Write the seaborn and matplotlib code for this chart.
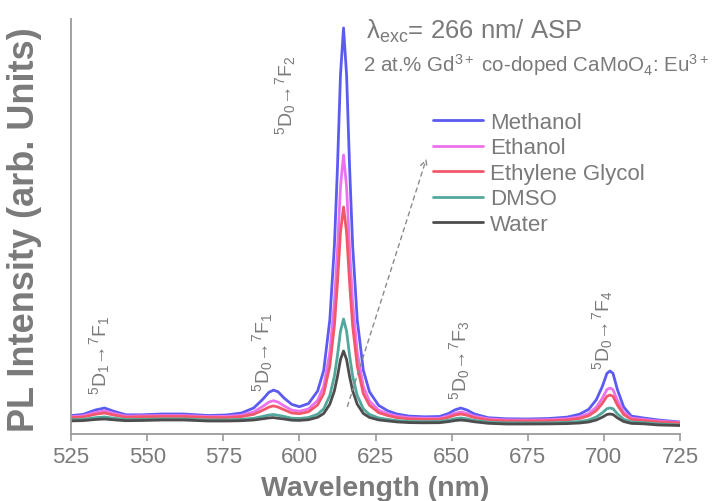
import matplotlib
matplotlib.use("Agg")
import matplotlib.pyplot as plt
import numpy as np
import pandas as pd
import seaborn as sns

# ---------------- data ----------------
wavelength = [525, 529, 533, 536, 539, 543, 548, 555, 562, 570, 576, 581, 585, 588, 590,
              591.5, 593, 595, 597.5, 600, 603, 606, 608, 610, 611.5, 612.5, 613.5, 614.5,
              615.5, 616.5, 617.5, 619, 621, 623, 626, 629, 632, 636, 641, 646, 649, 651,
              653, 655, 657.5, 662, 668, 675, 682, 688, 692, 695, 697.5, 699.5, 701, 702,
              703, 704.5, 706.5, 709, 713, 718, 725]

methanol = [18.4, 19.6, 24, 26, 22.8, 19.2, 19.2, 20, 20, 18.5, 19, 21, 26, 34.8, 41.7,
            43.9, 42.2, 35.9, 29.6, 27.3, 30.4, 43, 63.7, 114.3, 188.2, 266, 359.3, 406,
            359.3, 266, 188.2, 114.3, 63.7, 42.3, 28.7, 23.2, 20, 17.9, 17.2, 17.5, 20.5, 24,
            26, 24, 20, 16.3, 15.2, 15, 15.5, 16.9, 19.8, 24.6, 34.2, 47.6, 60.6, 63,
            60.6, 43.8, 27, 17.9, 16, 14, 12]

ethanol = [17.3, 18.2, 21.5, 23, 20.6, 17.9, 18.2, 18.5, 18.5, 17.5, 17.6, 18.8, 22, 27.6, 31.9,
           33.3, 31.9, 28.1, 23.9, 22.8, 25, 33.6, 47.6, 81.8, 131.7, 184.3, 247.4, 279,
           247.4, 184.3, 131.7, 81.8, 47.6, 33.1, 23.9, 20.2, 17.9, 16.3, 15.8, 15.7, 18.2, 20.6,
           22, 20.6, 17.8, 15.1, 14.1, 14, 14.3, 15.3, 17.2, 20.4, 26.8, 35.8, 44.4, 46,
           44.4, 33.2, 22, 15.9, 14.6, 13, 11.5]

ethylene_glycol = [16.3, 17, 19.8, 21, 19, 16.8, 17.2, 17.5, 17.5, 16.5, 16.4, 17.4, 19.7, 23.8, 26.9,
                   28.1, 26.9, 24.2, 21, 20.3, 22.2, 29.1, 40.4, 68, 108.3, 150.7, 201.6, 227,
                   201.6, 150.7, 108.3, 68, 40.4, 28.8, 21.4, 18.4, 16.4, 15.1, 14.6, 14.6, 16.7, 18.8,
                   20, 18.8, 16.4, 14, 13.1, 13, 13.3, 14, 15.6, 18.2, 23.4, 30.7, 37.7, 39,
                   37.7, 28.6, 19.5, 14.6, 13.5, 12, 11]

dmso = [14.2, 14.6, 16.3, 17, 15.8, 14.5, 14.6, 15, 15, 14, 14.1, 14.6, 15.7, 17.6, 19,
        19.5, 18.7, 17.5, 15.8, 15.5, 16.5, 19.8, 25.2, 38.5, 57.9, 78.3, 102.8, 115,
        102.8, 78.3, 57.9, 38.5, 25.2, 19.6, 16.1, 14.6, 13.4, 12.5, 12.3, 12.5, 13.8, 15.2,
        16, 15.2, 13.6, 11.8, 11.1, 11, 11.2, 11.6, 12.5, 14, 17, 21.2, 25.3, 26,
        25.3, 20, 14.8, 11.9, 11.3, 10, 9]

water = [13.1, 13.4, 14.5, 15, 14.2, 13.3, 13.5, 14, 14, 13, 13, 13.3, 14, 15.2, 16.1,
         16.4, 15.7, 15, 13.8, 13.6, 14.3, 16.7, 20.5, 29.8, 43.2, 57.4, 74.5, 83,
         74.5, 57.4, 43.2, 29.8, 20.5, 16.6, 14.1, 13.1, 12.1, 11.4, 11.2, 11.3, 12.4, 13.4,
         14, 13.4, 12.2, 10.7, 10, 10, 10.1, 10.4, 11, 12, 14, 16.8, 19.5, 20,
         19.5, 16, 12.5, 10.6, 10.2, 9, 8.5]

solvents = ["Methanol", "Ethanol", "Ethylene Glycol", "DMSO", "Water"]
colors = ["#5b5bf2", "#ec72ec", "#f2586a", "#52a89c", "#4d4d4d"]
x_ticks = [525, 550, 575, 600, 625, 650, 675, 700, 725]

series = [methanol, ethanol, ethylene_glycol, dmso, water]
df = pd.concat(
    [pd.DataFrame({"Wavelength": wavelength, "Intensity": v, "Solvent": s})
     for s, v in zip(solvents, series)],
    ignore_index=True)

# ---------------- style ----------------
sns.set_theme(style="white")
plt.rcParams["font.family"] = ["Liberation Sans", "DejaVu Sans"]
plt.rcParams["mathtext.fontset"] = "custom"
plt.rcParams["mathtext.rm"] = "Liberation Sans"
plt.rcParams["mathtext.it"] = "Liberation Sans:italic"
plt.rcParams["mathtext.bf"] = "Liberation Sans:bold"

txt = "#7a7a7a"

fig = plt.figure(figsize=(7.16, 5.02), dpi=100)
ax = fig.add_axes([71 / 716, 67 / 502, 609 / 716, 415 / 502])

sns.lineplot(data=df, x="Wavelength", y="Intensity", hue="Solvent",
             hue_order=solvents, palette=dict(zip(solvents, colors)),
             sort=False, estimator=None, lw=2.0, ax=ax)

ax.set_xlim(525, 725)
ax.set_ylim(0, 415)
ax.set_xticks(x_ticks)
ax.set_xticklabels([str(t) for t in x_ticks])
ax.set_yticks([])

for s in ["top", "right"]:
    ax.spines[s].set_visible(False)
for s in ["left", "bottom"]:
    ax.spines[s].set_color("#9a9a9a")
    ax.spines[s].set_linewidth(1.3)

ax.tick_params(axis="x", bottom=True, direction="out", length=5, width=1.2,
               color="#9a9a9a", labelsize=16, labelcolor=txt, pad=4)

ax.set_xlabel("Wavelength (nm)", fontsize=20.5, fontweight="bold", color=txt, va="top")
ax.xaxis.set_label_coords(0.499, -0.10)
ax.set_ylabel("PL Intensity (arb. Units)", fontsize=26, fontweight="bold", color=txt)
ax.yaxis.set_label_coords(-0.048, 0.495)

handles, labels = ax.get_legend_handles_labels()
ax.legend(handles, labels, loc="upper left", bbox_to_anchor=(433 / 716, 1 - 113 / 502),
          bbox_transform=fig.transFigure, frameon=False, fontsize=16,
          handlelength=2.25, handletextpad=0.3, labelspacing=0.2, borderpad=0,
          borderaxespad=0, labelcolor=txt)

# header texts
fig.text(366 / 716, 1 - 31 / 502, "λ$_{\\mathregular{exc}}$= 266 nm/ ASP",
         fontsize=18.5, color=txt, va="center", ha="left")
fig.text(363 / 716, 1 - 65 / 502,
         "2 at.% Gd$^{\\mathregular{3+}}$ co-doped CaMoO$_{\\mathregular{4}}$: Eu$^{\\mathregular{3+}}$",
         fontsize=14.8, color=txt, va="center", ha="left")

# transition labels
trans = [
    (534.5, 80, "$^{\\mathregular{5}}$D$_{\\mathregular{1}}$→$^{\\mathregular{7}}$F$_{\\mathregular{1}}$"),
    (588.0, 83, "$^{\\mathregular{5}}$D$_{\\mathregular{0}}$→$^{\\mathregular{7}}$F$_{\\mathregular{1}}$"),
    (595.3, 340, "$^{\\mathregular{5}}$D$_{\\mathregular{0}}$→$^{\\mathregular{7}}$F$_{\\mathregular{2}}$"),
    (652.7, 75, "$^{\\mathregular{5}}$D$_{\\mathregular{0}}$→$^{\\mathregular{7}}$F$_{\\mathregular{3}}$"),
    (699.7, 105, "$^{\\mathregular{5}}$D$_{\\mathregular{0}}$→$^{\\mathregular{7}}$F$_{\\mathregular{4}}$"),
]
for xx, yy, s in trans:
    ax.text(xx, yy, s, rotation=90, ha="center", va="center", fontsize=14, color=txt)

# trend arrow
ax.annotate("", xy=(642, 278), xytext=(615.5, 25),
            arrowprops=dict(arrowstyle="->", color="#8a8a8a", lw=1.0, linestyle=(0, (3, 3))))

fig.savefig("out.png", dpi=100)
